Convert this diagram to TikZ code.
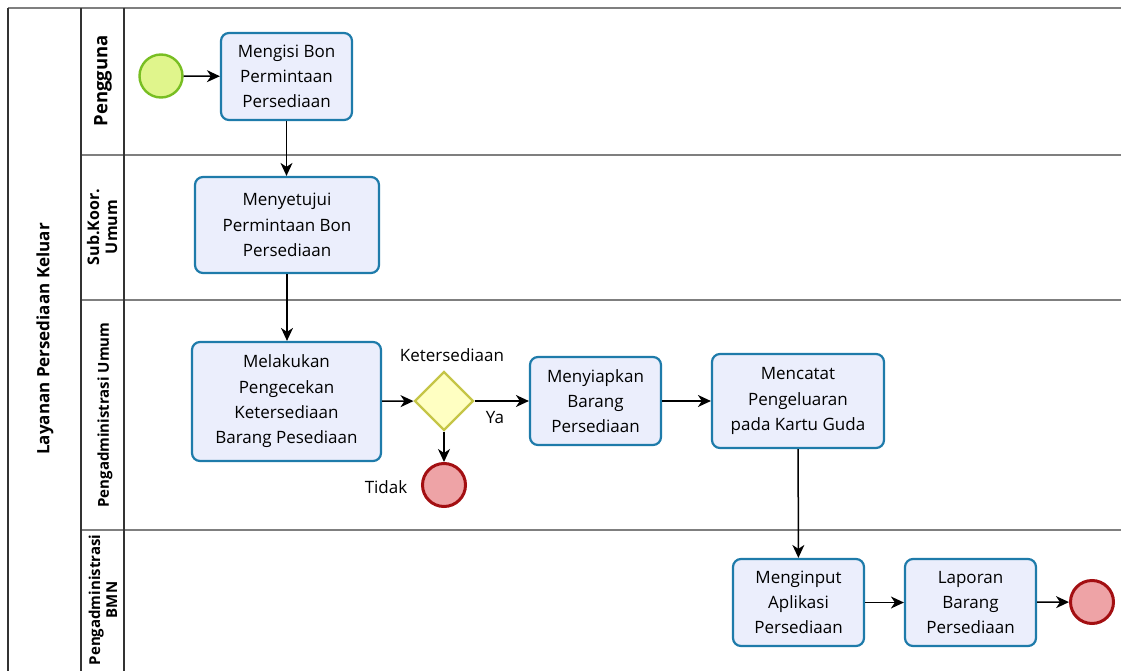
\documentclass[tikz,border=0pt]{standalone}
\usepackage{fontspec}
\setmainfont{Open Sans}
\usetikzlibrary{shapes.geometric,arrows.meta}
\definecolor{taskfill}{HTML}{EBEEFC}
\definecolor{taskdraw}{HTML}{1E7BAA}
\definecolor{startfill}{HTML}{E0F58C}
\definecolor{startdraw}{HTML}{78BE22}
\definecolor{endfill}{HTML}{EEA3A6}
\definecolor{enddraw}{HTML}{A30F12}
\definecolor{gwfill}{HTML}{FFFFC2}
\definecolor{gwdraw}{HTML}{C5C547}
\definecolor{lanegray}{HTML}{7F7F7F}
\tikzset{
  task/.style={draw=taskdraw, fill=taskfill, line width=2.2pt, rounded corners=8pt, align=center, font=\fontsize{17}{25.3}\selectfont, inner sep=0pt},
  startev/.style={circle, draw=startdraw, fill=startfill, line width=2.4pt, minimum size=43pt, inner sep=0pt},
  endev/.style={circle, draw=enddraw, fill=endfill, line width=3pt, minimum size=43pt, inner sep=0pt},
  gw/.style={diamond, draw=gwdraw, fill=gwfill, line width=2.2pt, minimum width=59pt, minimum height=59pt, inner sep=0pt},
  flow/.style={-{Stealth[length=13pt,width=12pt,inset=4pt]}, line width=1.5pt, black},
  lbl/.style={font=\fontsize{17}{20}\selectfont},
  lanelbl/.style={rotate=90, align=center, font=\bfseries\fontsize{15}{17}\selectfont},
  lane/.style={draw=lanegray, line width=1.4pt},
  frame/.style={draw=black!80, line width=1.3pt}
}
\begin{document}
\begin{tikzpicture}[x=1pt,y=-1pt]
\useasboundingbox (0,0) rectangle (1121,671);
% lanes
\draw[lanegray, line width=2.5pt] (8,8) -- (1121,8);
\draw[lane] (81,155) -- (1121,155);
\draw[lane] (81,300) -- (1121,300);
\draw[lane] (81,530) -- (1121,530);
\draw[frame] (8,8) -- (8,671);
\draw[frame] (81,8) -- (81,671);
\draw[frame] (124,8) -- (124,671);
% labels
\node[lanelbl, font=\bfseries\fontsize{17}{19}\selectfont] (pool) at (45,339) {Layanan Persediaan Keluar};
\node[lanelbl, font=\bfseries\fontsize{18.5}{20}\selectfont] (l1) at (103,81) {Pengguna};
\node[lanelbl, font=\bfseries\fontsize{16}{18}\selectfont] (l2) at (102,227) {Sub.Koor.\\Umum};
\node[lanelbl] (l3) at (105,415) {Pengadministrasi Umum};
\node[lanelbl] (l4) at (103,600) {Pengadministrasi\\BMN};
% nodes
\node[startev] (start) at (161,76) {};
\node[task, minimum width=131pt, minimum height=87pt] (t1) at (286.5,76.5) {Mengisi Bon\\Permintaan\\Persediaan};
\node[task, minimum width=184pt, minimum height=96pt] (t2) at (287,225) {Menyetujui\\Permintaan Bon\\Persediaan};
\node[task, minimum width=189pt, minimum height=119pt] (t3) at (286.5,401.5) {Melakukan\\Pengecekan\\Ketersediaan\\Barang Pesediaan};
\node[gw] (gw) at (444,401) {};
\node[lbl] (gwl) at (452,355) {Ketersediaan};
\node[endev] (e1) at (444,485) {};
\node[lbl] (tidak) at (386,487) {Tidak};
\node[task, minimum width=131pt, minimum height=88pt] (t4) at (595.5,401) {Menyiapkan\\Barang\\Persediaan};
\node[task, minimum width=172pt, minimum height=94pt] (t5) at (798,401) {Mencatat\\Pengeluaran\\pada Kartu Guda};
\node[task, minimum width=131pt, minimum height=87pt] (t6) at (798.5,602.5) {Menginput\\Aplikasi\\Persediaan};
\node[task, minimum width=131pt, minimum height=87pt] (t7) at (970.5,602.5) {Laporan\\Barang\\Persediaan};
\node[endev] (e2) at (1092,602) {};
% flows
\draw[flow] (start) -- (t1);
\draw[flow] (t1) -- (t1 |- t2.north);
\draw[flow] (t2) -- (t2 |- t3.north);
\draw[flow] (t3) -- (gw);
\draw[flow] (gw) -- (t4);
\node[lbl] (ya) at (495,418) {Ya};
\draw[flow] (gw) -- (e1);
\draw[flow] (t4) -- (t5);
\draw[flow] (t5) -- (t6);
\draw[flow] (t6) -- (t7);
\draw[flow] (t7) -- (e2);
\end{tikzpicture}
\end{document}
